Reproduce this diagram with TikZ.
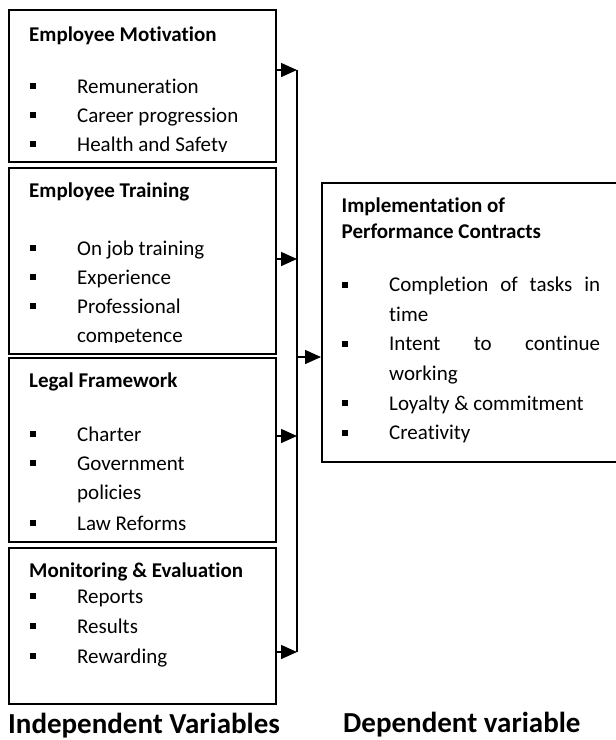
\documentclass[tikz,border=0pt]{standalone}
\usepackage{fontspec}
\setmainfont{Carlito}[Ligatures=NoCommon]
\usetikzlibrary{arrows.meta}
\begin{document}
\begin{tikzpicture}[x=1pt,y=-1pt,
  box/.style={draw, line width=1.8pt, inner sep=0pt, anchor=north west},
  hdr/.style={anchor=base west, inner sep=0pt, font=\fontsize{21}{27}\selectfont\bfseries},
  itm/.style={anchor=base west, inner sep=0pt, font=\fontsize{21}{29.5}\selectfont},
  bul/.style={fill, inner sep=0pt, minimum size=6pt},
  link/.style={line width=1.5pt, -{Triangle[length=16pt,width=14pt]}},
  caption/.style={anchor=base west, inner sep=0pt, font=\fontsize{29}{34}\selectfont\bfseries}]
\useasboundingbox (0,0) rectangle (616,740);

% independent variable boxes
\node[box, minimum width=267pt, minimum height=152pt] (b1) at (8,9) {};
\node[box, minimum width=267pt, minimum height=186pt] (b2) at (8,167) {};
\node[box, minimum width=267pt, minimum height=184pt] (b3) at (8,357) {};
\node[box, minimum width=267pt, minimum height=156pt] (b4) at (8,547) {};
% dependent variable box (runs past the right edge)
\node[box, minimum width=300pt, minimum height=279pt] (rb) at (321,182) {};

% Employee Motivation
\begin{scope}
  \clip (8,9) rectangle (275,151);
  \node[hdr] (h1) at (29,41) {Employee Motivation};
  \node[bul] (p11) at (33,86) {};  \node[itm] (t11) at (77,93) {Remuneration};
  \node[bul] (p12) at (33,115) {}; \node[itm] (t12) at (77,122) {Career progression};
  \node[bul] (p13) at (33,144) {}; \node[itm] (t13) at (77,151) {Health and Safety};
\end{scope}

% Employee Training
\begin{scope}
  \clip (8,167) rectangle (275,342);
  \node[hdr] (h2) at (29,197) {Employee Training};
  \node[bul] (p21) at (33,248) {}; \node[itm] (t21) at (77,255) {On job training};
  \node[bul] (p22) at (33,277) {}; \node[itm] (t22) at (77,284) {Experience};
  \node[bul] (p23) at (33,306) {}; \node[itm] (t23) at (77,313) {Professional};
  \node[itm] (t24) at (77,342.5) {competence};
\end{scope}

% Legal Framework
\node[hdr] (h3) at (29,387) {Legal Framework};
\node[bul] (p31) at (33,434) {}; \node[itm] (t31) at (77,441) {Charter};
\node[bul] (p32) at (33,463) {}; \node[itm] (t32) at (77,470) {Government};
\node[itm] (t33) at (77,499.5) {policies};
\node[bul] (p34) at (33,523) {}; \node[itm] (t34) at (77,530) {Law Reforms};

% Monitoring & Evaluation
\node[hdr] (h4) at (29,577) {Monitoring \& Evaluation};
\node[bul] (p41) at (33,596) {}; \node[itm] (t41) at (77,603) {Reports};
\node[bul] (p42) at (33,626) {}; \node[itm] (t42) at (77,633) {Results};
\node[bul] (p43) at (33,656) {}; \node[itm] (t43) at (77,663) {Rewarding};

% Implementation of Performance Contracts
\node[hdr] (h5a) at (341.5,212) {Implementation of};
\node[hdr] (h5b) at (341.5,238.5) {Performance Contracts};
\node[bul] (p51) at (345,284.5) {}; \node[itm] (t51) at (389,291.5) {\makebox[211pt][s]{Completion of tasks in}};
\node[itm] (t52) at (389,321) {time};
\node[bul] (p53) at (345,343.5) {}; \node[itm] (t53) at (389,350.5) {\makebox[211pt][s]{Intent to continue}};
\node[itm] (t54) at (389,380.5) {working};
\node[bul] (p55) at (345,403) {}; \node[itm] (t55) at (389,410) {Loyalty \& commitment};
\node[bul] (p56) at (345,432.5) {}; \node[itm] (t56) at (389,439.5) {Creativity};

% connectors
\coordinate (j1) at (297,70);
\coordinate (j2) at (297,259);
\coordinate (j3) at (297,436);
\coordinate (j4) at (297,652);
\coordinate (jm) at (297,357);
\draw[line width=1.5pt] (j1) -- (j4);
\draw[link] (b1.east |- j1) -- (j1);
\draw[link] (b2.east |- j2) -- (j2);
\draw[link] (b3.east |- j3) -- (j3);
\draw[link] (b4.east |- j4) -- (j4);
\draw[link] (jm) -- (rb.west |- jm);

% captions
\node[caption] (c1) at (8,733) {Independent Variables};
\node[caption] (c2) at (343,732) {Dependent variable};
\end{tikzpicture}
\end{document}
